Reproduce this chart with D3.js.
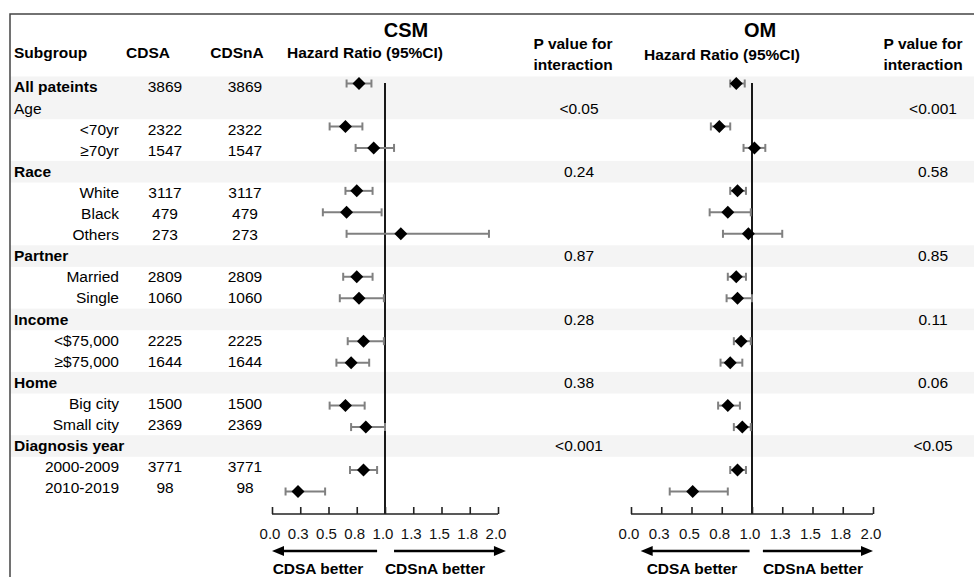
<!DOCTYPE html>
<html>
<head>
<meta charset="utf-8">
<script src="https://cdn.jsdelivr.net/npm/d3@7"></script>
<style>
  body { margin: 0; background: #fff; }
  svg { display: block; font-family: "Liberation Sans", Arial, sans-serif; }
</style>
</head>
<body>
<svg id="chart" width="974" height="577"></svg>
<script>
// row labels and which rows are group headers
const labels = ['All pateints', 'Age', '<70yr', '\u226570yr', 'Race', 'White', 'Black', 'Others',
  'Partner', 'Married', 'Single', 'Income', '<$75,000', '\u2265$75,000', 'Home', 'Big city',
  'Small city', 'Diagnosis year', '2000-2009', '2010-2019'];
const groupRows = [0, 1, 4, 8, 11, 14, 17];
const boldRows = [0, 4, 8, 11, 14, 17];

const cdsaN  = ['3869', '', '2322', '1547', '', '3117', '479', '273', '', '2809', '1060', '', '2225', '1644', '', '1500', '2369', '', '3771', '98'];
const cdsnaN = ['3869', '', '2322', '1547', '', '3117', '479', '273', '', '2809', '1060', '', '2225', '1644', '', '1500', '2369', '', '3771', '98'];

// CSM hazard ratios
const csmHR = [0.77, null, 0.65, 0.90, null, 0.75, 0.66, 1.14, null, 0.75, 0.77, null, 0.81, 0.70, null, 0.65, 0.83, null, 0.81, 0.23];
const csmLo = [0.66, null, 0.51, 0.74, null, 0.65, 0.45, 0.66, null, 0.63, 0.60, null, 0.67, 0.57, null, 0.51, 0.70, null, 0.69, 0.12];
const csmHi = [0.88, null, 0.80, 1.08, null, 0.89, 0.97, 1.92, null, 0.89, 0.99, null, 0.99, 0.86, null, 0.82, 1.00, null, 0.93, 0.47];

// OM hazard ratios
const omHR = [0.87, null, 0.73, 1.02, null, 0.88, 0.80, 0.97, null, 0.87, 0.88, null, 0.91, 0.82, null, 0.80, 0.92, null, 0.88, 0.51];
const omLo = [0.82, null, 0.66, 0.93, null, 0.82, 0.65, 0.76, null, 0.80, 0.79, null, 0.85, 0.74, null, 0.72, 0.85, null, 0.82, 0.32];
const omHi = [0.94, null, 0.82, 1.11, null, 0.95, 0.99, 1.25, null, 0.95, 1.00, null, 0.99, 0.92, null, 0.90, 0.99, null, 0.95, 0.80];

const csmP = ['', '<0.05', '', '', '0.24', '', '', '', '0.87', '', '', '0.28', '', '', '0.38', '', '', '<0.001', '', ''];
const omP  = ['', '<0.001', '', '', '0.58', '', '', '', '0.85', '', '', '0.11', '', '', '0.06', '', '', '<0.05', '', ''];

const ticks = [0, 0.25, 0.5, 0.75, 1, 1.25, 1.5, 1.75, 2];
const tickLabels = ['0.0', '0.3', '0.5', '0.8', '1.0', '1.3', '1.5', '1.8', '2.0'];

const svg = d3.select('#chart');
const fs = 15.5;

// text/band rows and marker rows are spaced slightly differently in the original
const y = d3.scaleBand().domain(d3.range(labels.length)).range([76.5, 76.5 + 21.1 * 20]).padding(0);
const yc = i => y(i) + y.bandwidth() / 2;
const ym = d3.scalePoint().domain(d3.range(labels.length)).range([83.5, 491.5]);

const xCSM = d3.scaleLinear().domain([0, 2]).range([272, 498]);
const xOM = d3.scaleLinear().domain([0, 2]).range([631, 873]);

// shaded group bands
svg.append('g').selectAll('rect')
  .data(groupRows)
  .join('rect')
  .attr('x', 10).attr('width', 980)
  .attr('y', d => y(d)).attr('height', y.bandwidth() + 0.5)
  .attr('fill', '#f4f4f4');

// frame
svg.append('rect')
  .attr('x', 10).attr('y', 14).attr('width', 1000).attr('height', 600)
  .attr('fill', 'none').attr('stroke', '#444').attr('stroke-width', 1.5);

// headers
const hdr = svg.append('g').attr('font-weight', 'bold').attr('font-size', fs).attr('fill', '#000');
hdr.append('text').attr('x', 14).attr('y', 58).text('Subgroup');
hdr.append('text').attr('x', 148).attr('y', 58).attr('text-anchor', 'middle').text('CDSA');
hdr.append('text').attr('x', 237).attr('y', 58).attr('text-anchor', 'middle').text('CDSnA');
hdr.append('text').attr('x', 365).attr('y', 58).attr('text-anchor', 'middle').text('Hazard Ratio (95%CI)');
hdr.append('text').attr('x', 722).attr('y', 60).attr('text-anchor', 'middle').text('Hazard Ratio (95%CI)');
hdr.append('text').attr('x', 406).attr('y', 37).attr('text-anchor', 'middle').attr('font-size', 20).text('CSM');
hdr.append('text').attr('x', 760).attr('y', 37).attr('text-anchor', 'middle').attr('font-size', 20).text('OM');
[[573, 'P value for', 49], [573, 'interaction', 70], [923, 'P value for', 49], [923, 'interaction', 70]]
  .forEach(([x, t, yy]) => hdr.append('text').attr('x', x).attr('y', yy).attr('text-anchor', 'middle').text(t));

// row labels
const rows = svg.append('g').attr('font-size', fs).attr('fill', '#000');
labels.forEach((lab, i) => {
  const isGroup = groupRows.includes(i);
  rows.append('text')
    .attr('x', isGroup ? 14 : 119)
    .attr('y', yc(i)).attr('dy', '0.35em')
    .attr('text-anchor', isGroup ? 'start' : 'end')
    .attr('font-weight', boldRows.includes(i) ? 'bold' : 'normal')
    .text(lab);
  if (cdsaN[i]) rows.append('text').attr('x', 165).attr('y', yc(i)).attr('dy', '0.35em').attr('text-anchor', 'middle').text(cdsaN[i]);
  if (cdsnaN[i]) rows.append('text').attr('x', 245).attr('y', yc(i)).attr('dy', '0.35em').attr('text-anchor', 'middle').text(cdsnaN[i]);
  if (csmP[i]) rows.append('text').attr('x', 579).attr('y', yc(i)).attr('dy', '0.35em').attr('text-anchor', 'middle').text(csmP[i]);
  if (omP[i]) rows.append('text').attr('x', 933).attr('y', yc(i)).attr('dy', '0.35em').attr('text-anchor', 'middle').text(omP[i]);
});

function forest(x, hr, lo, hi, arrows, betterX) {
  const g = svg.append('g');
  const axisY = 514;

  // reference line at HR = 1
  g.append('line')
    .attr('x1', x(1)).attr('x2', x(1)).attr('y1', 83).attr('y2', axisY)
    .attr('stroke', '#000').attr('stroke-width', 1.8);

  // axis
  const ax = g.append('g').attr('transform', `translate(0,${axisY})`)
    .call(d3.axisTop(x).tickValues(ticks).tickSize(7).tickFormat(''));
  ax.select('.domain').attr('stroke', '#222').attr('stroke-width', 1.6).attr('d', `M${x(0)},0H${x(2)}`);
  ax.selectAll('.tick line').attr('stroke', '#222').attr('stroke-width', 1.6);
  g.selectAll('.tlab')
    .data(ticks)
    .join('text')
    .attr('x', d => x(d) - 2).attr('y', 539)
    .attr('text-anchor', 'middle').attr('font-size', 15).attr('fill', '#111')
    .text((d, i) => tickLabels[i]);

  const idx = d3.range(hr.length).filter(i => hr[i] != null);

  // CI whiskers
  g.selectAll('.ci').data(idx).join('line')
    .attr('x1', i => x(lo[i])).attr('x2', i => x(hi[i]))
    .attr('y1', i => ym(i)).attr('y2', i => ym(i))
    .attr('stroke', '#808080').attr('stroke-width', 2);
  [lo, hi].forEach(arr => {
    g.selectAll(null).data(idx).join('line')
      .attr('x1', i => x(arr[i])).attr('x2', i => x(arr[i]))
      .attr('y1', i => ym(i) - 4).attr('y2', i => ym(i) + 4)
      .attr('stroke', '#808080').attr('stroke-width', 2);
  });

  // diamonds
  g.selectAll('.pt').data(idx).join('path')
    .attr('d', i => {
      const cx = x(hr[i]), cy = ym(i), r = 6.5;
      return `M${cx - r},${cy}L${cx},${cy - r}L${cx + r},${cy}L${cx},${cy + r}Z`;
    })
    .attr('fill', '#000');

  // direction arrows
  const ay = 551;
  arrows.forEach(([from, to]) => {
    const x1 = x(from), x2 = x(to), dir = Math.sign(x2 - x1);
    g.append('line').attr('x1', x1).attr('x2', x2 - dir * 8).attr('y1', ay).attr('y2', ay)
      .attr('stroke', '#000').attr('stroke-width', 2.5);
    g.append('path')
      .attr('d', `M${x2},${ay}L${x2 - dir * 12},${ay - 5}L${x2 - dir * 12},${ay + 5}Z`)
      .attr('fill', '#000');
  });
  g.append('text').attr('x', betterX[0]).attr('y', 574).attr('text-anchor', 'middle')
    .attr('font-weight', 'bold').attr('font-size', fs).text('CDSA better');
  g.append('text').attr('x', betterX[1]).attr('y', 574).attr('text-anchor', 'middle')
    .attr('font-weight', 'bold').attr('font-size', fs).text('CDSnA better');
}

forest(xCSM, csmHR, csmLo, csmHi, [[0.93, 0], [1.08, 2.07]], [318, 435]);
forest(xOM, omHR, omLo, omHi, [[0.98, 0.08], [1.09, 2.0]], [692, 813]);
</script>
</body>
</html>
